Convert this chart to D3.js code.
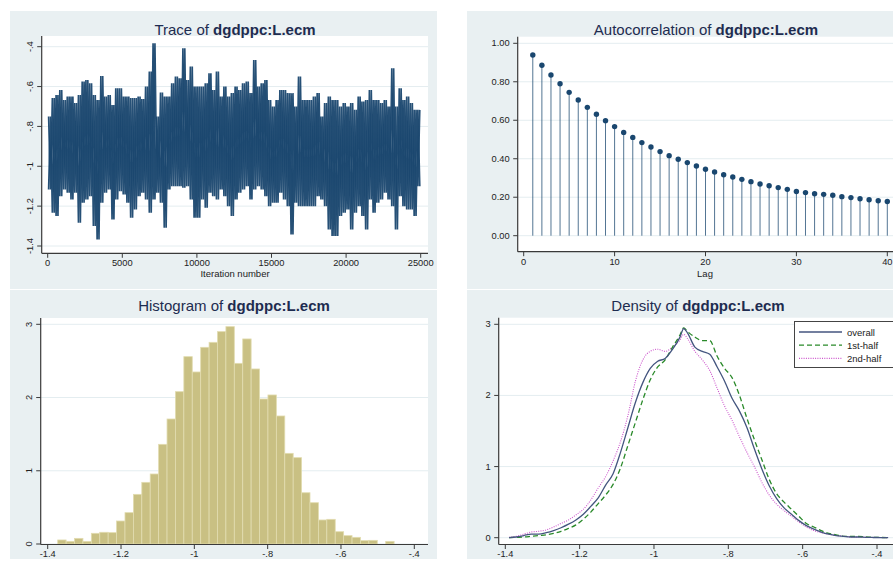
<!DOCTYPE html>
<html>
<head>
<meta charset="utf-8">
<script src="https://cdn.jsdelivr.net/npm/d3@7"></script>
<style>
  html, body { margin: 0; padding: 0; background: #ffffff; }
  svg { display: block; }
  text { font-family: "Liberation Sans", Arial, Helvetica, sans-serif; }
</style>
</head>
<body>
<svg id="chart" width="893" height="566"></svg>
<script>
// ---------------- DATA ----------------
const paramName = "dgdppc:L.ecm";

// Trace: per 250-iteration block, highest and lowest draw
const traceBlockSize = 250;
const traceHi = [
  -0.750,-0.658,-0.642,-0.617,-0.667,-0.650,-0.650,-0.683,-0.642,-0.575,
  -0.567,-0.583,-0.642,-0.667,-0.547,-0.650,-0.642,-0.692,-0.608,-0.608,
  -0.650,-0.650,-0.658,-0.658,-0.650,-0.663,-0.600,-0.525,-0.383,-0.750,
  -0.630,-0.650,-0.650,-0.583,-0.550,-0.558,-0.408,-0.567,-0.500,-0.600,
  -0.600,-0.600,-0.583,-0.533,-0.617,-0.525,-0.650,-0.600,-0.650,-0.633,
  -0.600,-0.617,-0.583,-0.575,-0.633,-0.467,-0.600,-0.583,-0.567,-0.667,
  -0.700,-0.667,-0.617,-0.617,-0.633,-0.633,-0.700,-0.550,-0.667,-0.667,
  -0.667,-0.650,-0.633,-0.750,-0.683,-0.650,-0.667,-0.667,-0.700,-0.683,
  -0.700,-0.683,-0.717,-0.650,-0.675,-0.667,-0.617,-0.667,-0.667,-0.683,
  -0.667,-0.700,-0.508,-0.700,-0.608,-0.667,-0.650,-0.683,-0.717,-0.717
];
const traceLo = [
  -1.117,-1.233,-1.250,-1.150,-1.117,-1.133,-1.167,-1.133,-1.283,-1.183,
  -1.167,-1.150,-1.300,-1.367,-1.183,-1.133,-1.117,-1.267,-1.167,-1.125,
  -1.142,-1.183,-1.258,-1.217,-1.150,-1.133,-1.167,-1.233,-1.167,-1.133,
  -1.183,-1.308,-1.117,-1.100,-1.100,-1.100,-1.108,-1.100,-1.167,-1.258,
  -1.258,-1.167,-1.208,-1.133,-1.150,-1.167,-1.117,-1.150,-1.200,-1.250,
  -1.167,-1.133,-1.117,-1.100,-1.167,-1.117,-1.100,-1.117,-1.150,-1.200,
  -1.183,-1.183,-1.133,-1.167,-1.200,-1.342,-1.183,-1.200,-1.200,-1.200,
  -1.200,-1.200,-1.150,-1.167,-1.200,-1.317,-1.350,-1.350,-1.250,-1.233,
  -1.217,-1.317,-1.233,-1.200,-1.250,-1.317,-1.167,-1.233,-1.183,-1.167,
  -1.133,-1.167,-1.200,-1.317,-1.150,-1.200,-1.217,-1.217,-1.250,-1.100
];
const traceXTicks = [0, 5000, 10000, 15000, 20000, 25000];
const traceYTicks = [-0.4, -0.6, -0.8, -1.0, -1.2, -1.4];
const traceYLabels = ["-.4", "-.6", "-.8", "-1", "-1.2", "-1.4"];

// Autocorrelation, lags 1..40
const acfLags = d3.range(1, 41);
const acfValues = [
  0.939,0.886,0.835,0.790,0.745,0.705,0.667,0.631,0.598,0.567,
  0.537,0.511,0.484,0.461,0.437,0.416,0.397,0.380,0.362,0.345,
  0.331,0.317,0.305,0.293,0.281,0.269,0.260,0.250,0.241,0.230,
  0.224,0.218,0.215,0.210,0.203,0.198,0.192,0.187,0.182,0.178
];
const acfXTicks = [0, 10, 20, 30, 40];
const acfYTicks = [0, 0.2, 0.4, 0.6, 0.8, 1.0];

// Histogram (density scale), 40 bins
const histStart = -1.3727;
const histBinWidth = 0.02294;
const histHeights = [
  0.055,0.036,0.077,0.036,0.146,0.160,0.155,0.314,0.428,0.678,
  0.842,0.956,1.361,1.707,2.080,2.558,2.349,2.686,2.754,2.900,
  2.968,2.467,2.800,2.390,1.980,2.035,1.748,1.238,1.179,0.700,
  0.564,0.328,0.337,0.168,0.114,0.091,0.046,0.050,0.000,0.036
];
const valueTicks = [-1.4, -1.2, -1.0, -0.8, -0.6, -0.4];
const valueLabels = ["-1.4", "-1.2", "-1", "-.8", "-.6", "-.4"];
const densYTicks = [0, 1, 2, 3];

// Kernel densities
const densX = [
  -1.39,-1.37,-1.35,-1.33,-1.31,-1.29,-1.27,-1.25,-1.23,-1.21,
  -1.19,-1.17,-1.15,-1.13,-1.11,-1.09,-1.07,-1.05,-1.03,-1.01,
  -0.99,-0.97,-0.95,-0.93,-0.92,-0.91,-0.89,-0.87,-0.85,-0.83,
  -0.81,-0.79,-0.77,-0.75,-0.73,-0.71,-0.69,-0.67,-0.65,-0.63,
  -0.61,-0.59,-0.57,-0.55,-0.53,-0.51,-0.49,-0.47,-0.45,-0.43,
  -0.41,-0.39,-0.37
];
const densOverall = [
  0.000,0.010,0.030,0.050,0.050,0.070,0.100,0.140,0.190,0.250,
  0.330,0.440,0.560,0.740,0.900,1.200,1.550,1.900,2.180,2.380,
  2.480,2.520,2.650,2.820,2.940,2.880,2.680,2.620,2.580,2.400,
  2.200,1.960,1.780,1.550,1.250,0.970,0.730,0.550,0.420,0.330,
  0.240,0.170,0.120,0.080,0.050,0.030,0.020,0.010,0.010,0.005,
  0.003,0.002,0.000
];
const dens1st = [
  0.000,0.005,0.010,0.020,0.030,0.040,0.060,0.090,0.130,0.180,
  0.260,0.360,0.480,0.600,0.750,0.980,1.300,1.620,1.940,2.220,
  2.400,2.500,2.680,2.850,2.950,2.900,2.820,2.770,2.770,2.550,
  2.380,2.250,2.000,1.680,1.380,1.100,0.820,0.620,0.500,0.400,
  0.300,0.200,0.150,0.100,0.060,0.040,0.020,0.020,0.020,0.010,
  0.005,0.003,0.000
];
const dens2nd = [
  0.005,0.020,0.050,0.080,0.090,0.110,0.150,0.200,0.250,0.320,
  0.400,0.530,0.700,0.860,1.080,1.350,1.720,2.200,2.500,2.620,
  2.650,2.620,2.680,2.780,2.860,2.800,2.620,2.500,2.350,2.100,
  1.850,1.650,1.420,1.200,1.000,0.780,0.600,0.470,0.380,0.300,
  0.220,0.150,0.100,0.070,0.050,0.030,0.020,0.010,0.010,0.005,
  0.003,0.002,0.000
];
const densSeries = [
  { name: "overall",  values: densOverall },
  { name: "1st-half", values: dens1st },
  { name: "2nd-half", values: dens2nd }
];

// ---------------- STYLE ----------------
const C = {
  panel: "#e9f0f2",
  plot: "#ffffff",
  grid: "#e4edf0",
  axis: "#3a3a3a",
  tickText: "#222222",
  title: "#1e2c50",
  navy: "#1a476f",
  khaki: "#c9c083",
  khakiEdge: "#e2dcb0",
  overall: "#44557f",
  first: "#2a8a2a",
  second: "#cc55cc"
};
const FONT_TICK = 9.3;

const svg = d3.select("#chart");
svg.append("rect").attr("width", 893).attr("height", 566).attr("fill", "#fff");

function drawTitle(cx, cy, prefix) {
  const t = svg.append("text").attr("x", cx).attr("y", cy)
    .attr("text-anchor", "middle").attr("dominant-baseline", "central")
    .attr("font-size", 15).attr("fill", C.title);
  t.append("tspan").text(prefix + " ");
  t.append("tspan").attr("font-weight", "bold").text(paramName);
}

function frame(p) {
  svg.append("rect").attr("x", p.bg[0]).attr("y", p.bg[1])
    .attr("width", p.bg[2]).attr("height", p.bg[3]).attr("fill", C.panel);
  svg.append("rect").attr("x", p.x0).attr("y", p.y0)
    .attr("width", p.x1 - p.x0).attr("height", p.y1 - p.y0).attr("fill", C.plot);
  const clipId = "clip" + Math.round(p.x0) + "_" + Math.round(p.y0);
  svg.append("clipPath").attr("id", clipId).append("rect")
    .attr("x", p.x0).attr("y", p.y0).attr("width", p.x1 - p.x0).attr("height", p.y1 - p.y0);
  return { clip: "url(#" + clipId + ")" };
}

function gridY(p, y, ticks) {
  svg.append("g").selectAll("line").data(ticks).join("line")
    .attr("x1", p.x0).attr("x2", p.x1)
    .attr("y1", d => y(d)).attr("y2", d => y(d))
    .attr("stroke", C.grid).attr("stroke-width", 1);
}

function axes(p, x, y, xt, xl, yt, yl, rotY) {
  const ga = svg.append("g");
  ga.append("line").attr("x1", p.x0).attr("x2", p.x0).attr("y1", p.y0).attr("y2", p.y1)
    .attr("stroke", C.axis).attr("stroke-width", 1.2);
  ga.append("line").attr("x1", p.x0).attr("x2", p.x1).attr("y1", p.y1).attr("y2", p.y1)
    .attr("stroke", C.axis).attr("stroke-width", 1.2);
  ga.selectAll(".yt").data(yt).join("line")
    .attr("x1", p.x0 - 4.5).attr("x2", p.x0).attr("y1", d => y(d)).attr("y2", d => y(d))
    .attr("stroke", C.axis).attr("stroke-width", 1);
  ga.selectAll(".xt").data(xt).join("line")
    .attr("y1", p.y1).attr("y2", p.y1 + 4.5).attr("x1", d => x(d)).attr("x2", d => x(d))
    .attr("stroke", C.axis).attr("stroke-width", 1);
  ga.selectAll(".xl").data(xt).join("text")
    .attr("x", d => x(d)).attr("y", p.y1 + 9.8)
    .attr("text-anchor", "middle").attr("dominant-baseline", "central")
    .attr("font-size", FONT_TICK).attr("fill", C.tickText)
    .text((d, i) => xl[i]);
  if (rotY) {
    ga.selectAll(".yl").data(yt).join("text")
      .attr("transform", d => `translate(${p.x0 - 11.5},${y(d)}) rotate(-90)`)
      .attr("text-anchor", "middle").attr("dominant-baseline", "central")
      .attr("font-size", FONT_TICK).attr("fill", C.tickText)
      .text((d, i) => yl[i]);
  } else {
    ga.selectAll(".yl").data(yt).join("text")
      .attr("x", p.x0 - 8).attr("y", d => y(d))
      .attr("text-anchor", "end").attr("dominant-baseline", "central")
      .attr("font-size", FONT_TICK).attr("fill", C.tickText)
      .text((d, i) => yl[i]);
  }
}

// ---------------- TRACE ----------------
{
  const p = { bg: [10, 11, 427, 278], x0: 41.7, x1: 428, y0: 36, y1: 253.3 };
  const { clip } = frame(p);
  const x = d3.scaleLinear().domain([0, 25000]).range([47.7, 420.7]);
  const y = d3.scaleLinear().domain([-0.4, -1.4]).range([46.7, 246]);
  gridY(p, y, traceYTicks);
  // two passes through the same block extremes, in opposite phase, for a dense band
  const ptsA = [], ptsB = [];
  traceHi.forEach((hi, k) => {
    const lo = traceLo[k];
    ptsA.push([k * traceBlockSize + traceBlockSize * 0.25, hi]);
    ptsA.push([k * traceBlockSize + traceBlockSize * 0.75, lo]);
    ptsB.push([k * traceBlockSize + traceBlockSize * 0.25, lo]);
    ptsB.push([k * traceBlockSize + traceBlockSize * 0.75, hi]);
  });
  const ln = d3.line().x(d => x(d[0])).y(d => y(d[1]));
  [ptsA, ptsB].forEach(pts => {
    svg.append("path").attr("clip-path", clip).attr("d", ln(pts))
      .attr("fill", "none").attr("stroke", C.navy).attr("stroke-width", 1.7)
      .attr("stroke-linejoin", "bevel").attr("stroke-opacity", 0.95);
  });
  axes(p, x, y, traceXTicks, traceXTicks.map(String), traceYTicks, traceYLabels, true);
  svg.append("text").attr("x", 235).attr("y", 273.5).attr("text-anchor", "middle")
    .attr("dominant-baseline", "central").attr("font-size", 9.5).attr("fill", C.tickText)
    .text("Iteration number");
  drawTitle(235, 28.5, "Trace of");
}

// ---------------- AUTOCORRELATION ----------------
{
  const p = { bg: [467, 11, 430, 278], x0: 517.7, x1: 897, y0: 36.7, y1: 251.7 };
  frame(p);
  const x = d3.scaleLinear().domain([0, 40]).range([523.7, 887.3]);
  const y = d3.scaleLinear().domain([0, 1]).range([235.7, 43.3]);
  gridY(p, y, acfYTicks);
  const g = svg.append("g");
  g.selectAll("line").data(acfLags).join("line")
    .attr("x1", d => x(d)).attr("x2", d => x(d))
    .attr("y1", y(0)).attr("y2", (d, i) => y(acfValues[i]))
    .attr("stroke", C.navy).attr("stroke-width", 1).attr("stroke-opacity", 0.75);
  g.selectAll("circle").data(acfLags).join("circle")
    .attr("cx", d => x(d)).attr("cy", (d, i) => y(acfValues[i])).attr("r", 2.7)
    .attr("fill", C.navy);
  axes(p, x, y, acfXTicks, acfXTicks.map(String), acfYTicks, acfYTicks.map(d3.format(".2f")), false);
  svg.append("text").attr("x", 705).attr("y", 273.5).attr("text-anchor", "middle")
    .attr("dominant-baseline", "central").attr("font-size", 9.5).attr("fill", C.tickText)
    .text("Lag");
  drawTitle(706, 28.5, "Autocorrelation of");
}

// ---------------- HISTOGRAM ----------------
{
  const p = { bg: [10, 290, 427, 269], x0: 40.7, x1: 428, y0: 318, y1: 544.5 };
  frame(p);
  const x = d3.scaleLinear().domain([-1.4, -0.4]).range([47.7, 414.3]);
  const y = d3.scaleLinear().domain([0, 3]).range([544, 324.3]);
  gridY(p, y, densYTicks);
  svg.append("g").selectAll("rect").data(histHeights).join("rect")
    .attr("x", (d, i) => x(histStart + i * histBinWidth))
    .attr("width", (d, i) => x(histStart + (i + 1) * histBinWidth) - x(histStart + i * histBinWidth))
    .attr("y", d => y(d)).attr("height", d => y(0) - y(d))
    .attr("fill", C.khaki).attr("stroke", C.khakiEdge).attr("stroke-width", 0.8);
  axes(p, x, y, valueTicks, valueLabels, densYTicks, densYTicks.map(String), true);
  drawTitle(234, 305, "Histogram of");
}

// ---------------- DENSITY ----------------
{
  const p = { bg: [467, 290, 430, 269], x0: 498.7, x1: 897, y0: 317.7, y1: 544.5 };
  const { clip } = frame(p);
  const x = d3.scaleLinear().domain([-1.4, -0.4]).range([505.3, 877]);
  const y = d3.scaleLinear().domain([0, 3]).range([537.7, 324.3]);
  gridY(p, y, densYTicks);
  const line = d3.line().x((d, i) => x(densX[i])).y(d => y(d)).curve(d3.curveMonotoneX);
  const styles = {
    "overall": { c: C.overall, dash: null, w: 1.3 },
    "1st-half": { c: C.first, dash: "5,3", w: 1.3 },
    "2nd-half": { c: C.second, dash: "1,1.3", w: 1.1 }
  };
  [densSeries[2], densSeries[1], densSeries[0]].forEach(s => {
    const st = styles[s.name];
    svg.append("path").attr("clip-path", clip).attr("d", line(s.values))
      .attr("fill", "none").attr("stroke", st.c).attr("stroke-width", st.w)
      .attr("stroke-dasharray", st.dash);
  });
  axes(p, x, y, valueTicks, valueLabels, densYTicks, densYTicks.map(String), false);
  drawTitle(698, 305, "Density of");
  const lg = svg.append("g");
  lg.append("rect").attr("x", 794.5).attr("y", 321.5).attr("width", 110).attr("height", 46)
    .attr("fill", "#fff").attr("stroke", "#444").attr("stroke-width", 1);
  densSeries.forEach((s, i) => {
    const st = styles[s.name];
    const yy = 332 + i * 13.2;
    lg.append("line").attr("x1", 799).attr("x2", 842).attr("y1", yy).attr("y2", yy)
      .attr("stroke", st.c).attr("stroke-width", st.w).attr("stroke-dasharray", st.dash);
    lg.append("text").attr("x", 847).attr("y", yy).attr("dominant-baseline", "central")
      .attr("font-size", 9.5).attr("fill", C.tickText).text(s.name);
  });
}
</script>
</body>
</html>
